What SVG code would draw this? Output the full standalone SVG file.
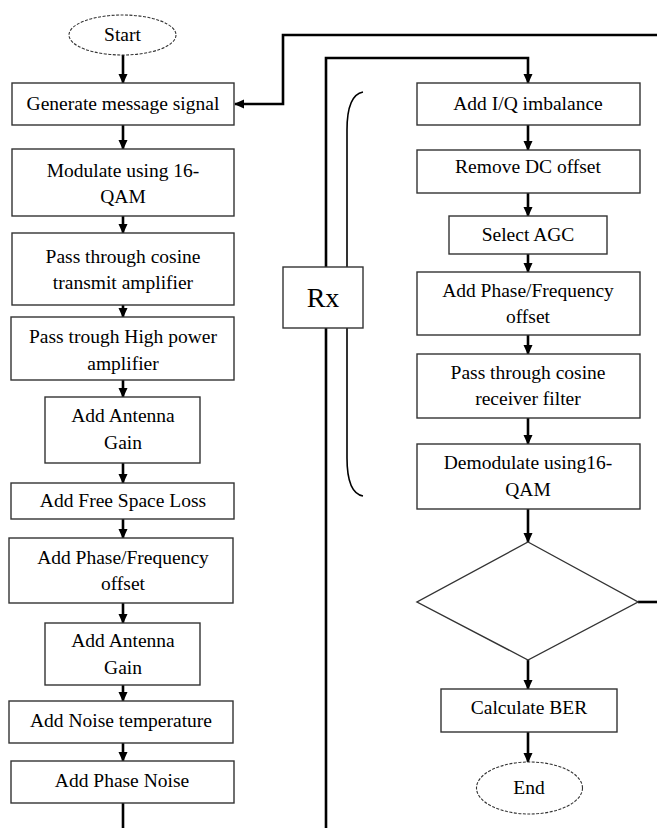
<svg xmlns="http://www.w3.org/2000/svg" width="657" height="828" viewBox="0 0 657 828">
<style>
.box{fill:#fff;stroke:#333;stroke-width:1.4}
.term{fill:#fff;stroke:#333;stroke-width:1.1;stroke-dasharray:3 1.5}
.t{font-family:"Liberation Serif","Times New Roman","DejaVu Serif",serif;font-size:19.5px;fill:#000;text-anchor:middle}
.c{fill:none;stroke:#000;stroke-width:2.6}
.br{fill:none;stroke:#000;stroke-width:1.6}
</style>
<defs>
<marker id="ah" markerUnits="userSpaceOnUse" markerWidth="10" markerHeight="10" viewBox="0 0 10 10" refX="9" refY="5" orient="auto">
<path d="M0,0.5 L10,5 L0,9.5 Z" fill="#000"/>
</marker>
</defs>
<rect width="657" height="828" fill="#fff"/>

<g id="connectors">
<line class="c" x1="123" y1="55" x2="123" y2="83" marker-end="url(#ah)"/>
<line class="c" x1="123" y1="125" x2="123" y2="149" marker-end="url(#ah)"/>
<line class="c" x1="123" y1="216" x2="123" y2="233" marker-end="url(#ah)"/>
<line class="c" x1="123" y1="305" x2="123" y2="317" marker-end="url(#ah)"/>
<line class="c" x1="123" y1="380" x2="123" y2="397" marker-end="url(#ah)"/>
<line class="c" x1="123" y1="463" x2="123" y2="483" marker-end="url(#ah)"/>
<line class="c" x1="123" y1="519" x2="123" y2="538" marker-end="url(#ah)"/>
<line class="c" x1="123" y1="603" x2="123" y2="623" marker-end="url(#ah)"/>
<line class="c" x1="123" y1="685" x2="123" y2="701" marker-end="url(#ah)"/>
<line class="c" x1="123" y1="743" x2="123" y2="761" marker-end="url(#ah)"/>
<line class="c" x1="123" y1="803" x2="123" y2="830"/>
<polyline class="c" points="660,35 283,35 283,104 235,104" marker-end="url(#ah)"/>
<polyline class="c" points="326,830 326,58 528,58 528,83" marker-end="url(#ah)"/>
<line class="c" x1="528" y1="125" x2="528" y2="150" marker-end="url(#ah)"/>
<line class="c" x1="528" y1="193" x2="528" y2="216" marker-end="url(#ah)"/>
<line class="c" x1="528" y1="254" x2="528" y2="272" marker-end="url(#ah)"/>
<line class="c" x1="528" y1="335" x2="528" y2="354" marker-end="url(#ah)"/>
<line class="c" x1="528" y1="418" x2="528" y2="444" marker-end="url(#ah)"/>
<line class="c" x1="528" y1="509" x2="528" y2="542" marker-end="url(#ah)"/>
<line class="c" x1="528" y1="660" x2="528" y2="689" marker-end="url(#ah)"/>
<line class="c" x1="528" y1="732" x2="528" y2="762" marker-end="url(#ah)"/>
<line class="c" x1="638" y1="602" x2="660" y2="602"/>
</g>

<g id="brace">
<path class="br" d="M363,92 C352,94 347,108 347,130 L347,458 C347,480 352,494 363,496"/>
</g>

<g font-family="Liberation Serif, Times New Roman, serif">
<g id="start"><ellipse class="term" cx="122.5" cy="35" rx="53.5" ry="20"/><text class="t" x="122.5" y="41">Start</text></g>
<g id="generate"><rect class="box" x="12" y="83" width="222" height="42"/><text class="t" x="123" y="110">Generate message signal</text></g>
<g id="modulate"><rect class="box" x="12" y="149" width="222" height="67"/><text class="t" x="123" y="177">Modulate using 16-</text><text class="t" x="123" y="203">QAM</text></g>
<g id="cosine-tx"><rect class="box" x="12" y="233" width="222" height="72"/><text class="t" x="123" y="263">Pass through cosine</text><text class="t" x="123" y="289">transmit amplifier</text></g>
<g id="hpa"><rect class="box" x="11" y="317" width="223" height="63"/><text class="t" x="123" y="343">Pass trough High power</text><text class="t" x="123" y="370">amplifier</text></g>
<g id="antenna1"><rect class="box" x="45" y="397" width="155" height="66"/><text class="t" x="123" y="422">Add Antenna</text><text class="t" x="123" y="449">Gain</text></g>
<g id="fsl"><rect class="box" x="11" y="483" width="223" height="36"/><text class="t" x="123" y="507">Add Free Space Loss</text></g>
<g id="phase-tx"><rect class="box" x="9" y="538" width="224" height="65"/><text class="t" x="123" y="564">Add Phase/Frequency</text><text class="t" x="123" y="590">offset</text></g>
<g id="antenna2"><rect class="box" x="45" y="623" width="155" height="62"/><text class="t" x="123" y="647">Add Antenna</text><text class="t" x="123" y="674">Gain</text></g>
<g id="noise-temp"><rect class="box" x="9" y="701" width="224" height="42"/><text class="t" x="121" y="727">Add Noise temperature</text></g>
<g id="phase-noise"><rect class="box" x="11" y="761" width="223" height="42"/><text class="t" x="122" y="787">Add Phase Noise</text></g>

<g id="rx"><rect class="box" x="283" y="267" width="80" height="61"/><text class="t" x="323" y="307" style="font-size:28px">Rx</text></g>

<g id="iq"><rect class="box" x="417" y="83" width="223" height="42"/><text class="t" x="528" y="110">Add I/Q imbalance</text></g>
<g id="dc"><rect class="box" x="417" y="150" width="223" height="43"/><text class="t" x="528" y="173">Remove DC offset</text></g>
<g id="agc"><rect class="box" x="449" y="216" width="158" height="38"/><text class="t" x="528" y="241">Select AGC</text></g>
<g id="phase-rx"><rect class="box" x="417" y="272" width="223" height="63"/><text class="t" x="528" y="297">Add Phase/Frequency</text><text class="t" x="528" y="323">offset</text></g>
<g id="cosine-rx"><rect class="box" x="417" y="354" width="223" height="64"/><text class="t" x="528" y="379">Pass through cosine</text><text class="t" x="528" y="405">receiver filter</text></g>
<g id="demod"><rect class="box" x="417" y="444" width="223" height="65"/><text class="t" x="528" y="469">Demodulate using16-</text><text class="t" x="528" y="496">QAM</text></g>
<g id="decision"><polygon class="box" points="528,542 638,602 528,660 417,602"/></g>
<g id="ber"><rect class="box" x="441" y="689" width="176" height="43"/><text class="t" x="529" y="714">Calculate BER</text></g>
<g id="end"><ellipse class="term" cx="529.5" cy="788" rx="53" ry="26"/><text class="t" x="529" y="794">End</text></g>
</g>
</svg>
